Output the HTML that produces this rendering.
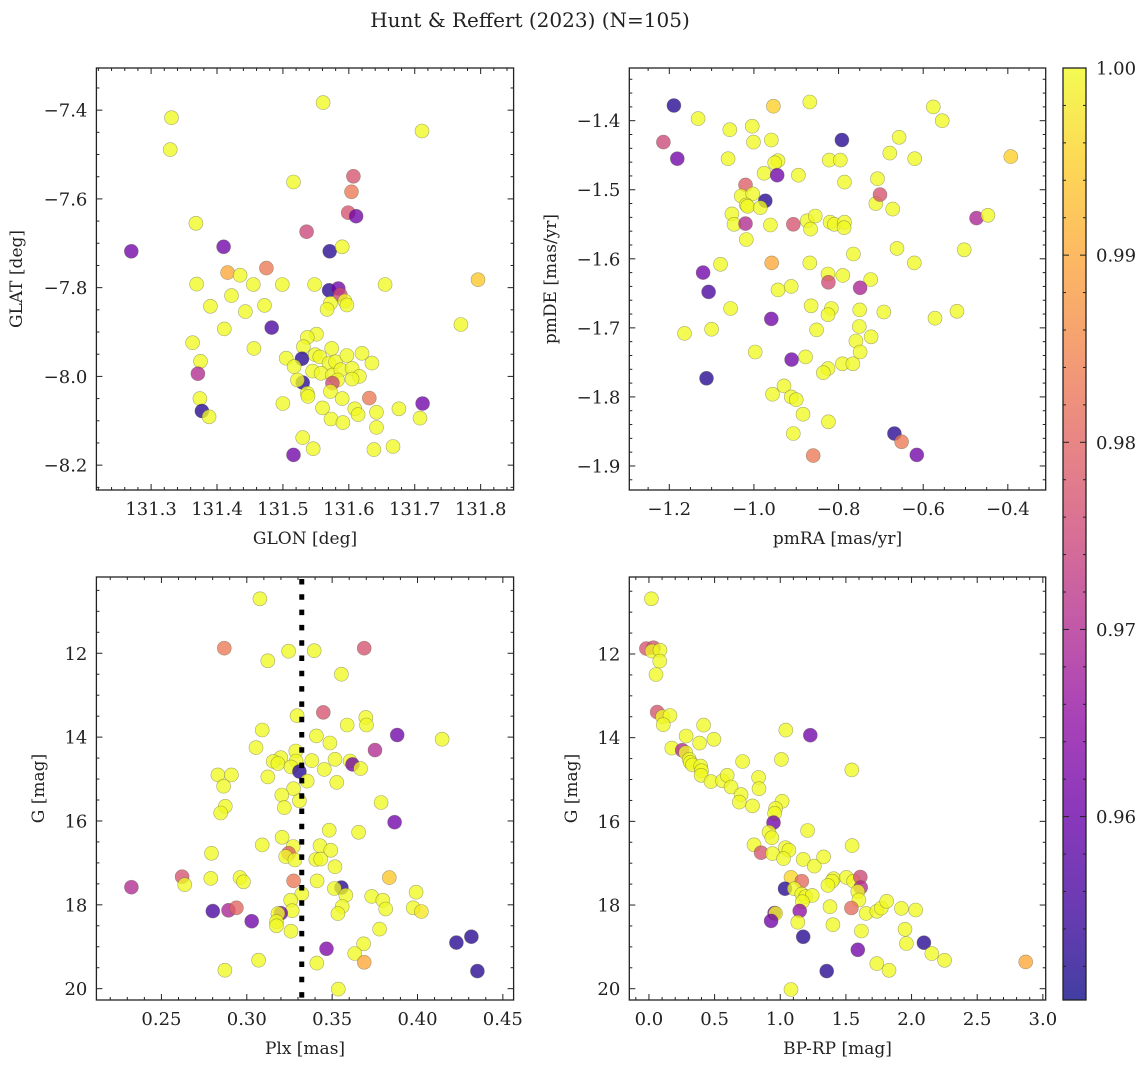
<!DOCTYPE html>
<html><head><meta charset="utf-8"><title>Hunt & Reffert (2023)</title>
<style>
html,body{margin:0;padding:0;background:#fff;}
svg text{font-family:"DejaVu Serif","Liberation Serif",serif;fill:#222;}
</style></head>
<body>
<svg id="fig" xmlns="http://www.w3.org/2000/svg" width="1148" height="1067" viewBox="0 0 1148 1067">
<rect width="1148" height="1067" fill="#fff"/>
<text x="530" y="27" font-size="20" text-anchor="middle">Hunt &amp; Reffert (2023) (N=105)</text>
</svg>
<script>
// ---------- DATA ----------
const glon = [131.270,131.331,131.329,131.561,131.711,131.607,131.604,131.516,131.599,131.611,131.368,131.536,131.410,131.571,131.590,131.416,131.475,131.435,131.455,131.548,131.499,131.655,131.796,131.369,131.422,131.390,131.472,131.443,131.570,131.584,131.587,131.572,131.594,131.597,131.567,131.411,131.483,131.770,131.363,131.456,131.551,131.537,131.531,131.375,131.371,131.505,131.529,131.517,131.549,131.556,131.574,131.570,131.580,131.597,131.620,131.635,131.545,131.558,131.575,131.588,131.605,131.616,131.583,131.605,131.575,131.530,131.522,131.374,131.377,131.388,131.500,131.537,131.538,131.572,131.590,131.560,131.573,131.591,131.609,131.614,131.631,131.642,131.642,131.676,131.708,131.712,131.530,131.546,131.516,131.638,131.667];
const glat = [-7.718,-7.417,-7.489,-7.383,-7.447,-7.549,-7.584,-7.562,-7.631,-7.639,-7.655,-7.674,-7.708,-7.718,-7.708,-7.766,-7.756,-7.772,-7.793,-7.793,-7.793,-7.793,-7.782,-7.792,-7.818,-7.842,-7.840,-7.854,-7.806,-7.802,-7.816,-7.835,-7.830,-7.839,-7.849,-7.893,-7.890,-7.883,-7.924,-7.937,-7.905,-7.912,-7.933,-7.966,-7.994,-7.959,-7.960,-7.978,-7.951,-7.956,-7.937,-7.970,-7.967,-7.953,-7.948,-7.970,-7.988,-7.993,-7.997,-7.985,-7.982,-8.000,-8.008,-8.006,-8.015,-8.014,-8.008,-8.050,-8.078,-8.091,-8.061,-8.038,-8.045,-8.034,-8.050,-8.071,-8.096,-8.104,-8.073,-8.086,-8.049,-8.081,-8.115,-8.073,-8.094,-8.061,-8.138,-8.163,-8.177,-8.165,-8.158];
const prob1 = [0.961,1,1,1,1,0.977,0.983,1,0.977,0.961,1,0.975,0.961,0.9525,1,0.99,0.983,1,1,1,1,1,0.994,1,1,1,1,1,0.9525,0.961,0.975,1,1,1,1,1,0.956,1,1,1,1,1,1,1,0.970,1,0.9525,1,1,1,1,1,1,1,1,1,1,1,1,1,1,1,1,1,0.975,0.9525,1,1,0.9525,1,1,1,1,1,1,1,1,1,1,1,0.983,1,1,1,1,0.961,1,1,0.961,1,1];

const pmra = [-1.189,-1.132,-1.214,-1.181,-1.057,-1.004,-1.001,-1.061,-0.959,-0.954,-0.868,-0.792,-0.943,-0.951,-0.976,-0.945,-0.895,-0.822,-0.796,-0.786,-0.708,-0.657,-0.679,-0.620,-0.576,-0.555,-0.393,-1.020,-1.030,-1.003,-0.973,-1.018,-1.015,-0.985,-1.052,-1.047,-1.020,-0.961,-0.907,-0.874,-0.866,-0.855,-1.018,-0.820,-0.810,-0.786,-0.787,-0.712,-0.702,-0.672,-0.474,-0.447,-0.662,-0.503,-0.621,-0.765,-0.958,-0.868,-1.079,-1.120,-1.107,-0.825,-0.824,-0.790,-0.724,-0.749,-0.943,-0.912,-1.055,-0.865,-0.817,-0.825,-0.750,-0.693,-0.572,-0.520,-0.959,-1.100,-1.164,-0.852,-0.751,-0.723,-0.759,-0.749,-0.997,-0.911,-0.878,-0.825,-0.836,-0.791,-0.766,-1.112,-0.929,-0.956,-0.912,-0.900,-0.884,-0.824,-0.907,-0.668,-0.651,-0.615,-0.860];
const pmde = [-1.378,-1.397,-1.431,-1.455,-1.413,-1.408,-1.431,-1.455,-1.428,-1.379,-1.373,-1.428,-1.458,-1.461,-1.476,-1.479,-1.479,-1.457,-1.457,-1.489,-1.484,-1.424,-1.447,-1.455,-1.380,-1.400,-1.452,-1.493,-1.509,-1.506,-1.516,-1.522,-1.524,-1.526,-1.535,-1.550,-1.549,-1.551,-1.550,-1.545,-1.557,-1.538,-1.572,-1.547,-1.550,-1.547,-1.555,-1.520,-1.507,-1.528,-1.541,-1.537,-1.585,-1.587,-1.606,-1.593,-1.606,-1.606,-1.608,-1.620,-1.648,-1.622,-1.634,-1.624,-1.630,-1.642,-1.645,-1.640,-1.672,-1.668,-1.672,-1.681,-1.674,-1.677,-1.686,-1.676,-1.687,-1.702,-1.708,-1.703,-1.698,-1.713,-1.719,-1.735,-1.735,-1.746,-1.742,-1.759,-1.765,-1.752,-1.752,-1.773,-1.784,-1.796,-1.800,-1.804,-1.825,-1.836,-1.853,-1.853,-1.865,-1.884,-1.885];
const prob2 = [0.9525,1,0.975,0.961,1,1,1,1,1,0.995,1,0.9525,1,1,1,0.961,1,1,1,1,1,1,1,1,1,1,0.995,0.979,1,1,0.9525,1,1,1,1,1,0.970,1,0.977,1,1,1,1,1,1,1,1,1,0.977,1,0.969,1,1,1,1,1,0.99,1,1,0.961,0.956,1,0.976,1,1,0.969,1,1,1,1,1,1,1,1,1,1,0.961,1,1,1,1,1,1,1,1,0.961,1,1,1,1,1,0.9525,1,1,1,1,1,1,1,0.9525,0.983,0.961,0.983];

const plx = [0.3077,0.2868,0.3688,0.3245,0.3395,0.3123,0.3554,0.3448,0.3295,0.3697,0.3701,0.3588,0.3090,0.3408,0.3881,0.4144,0.3487,0.3054,0.3751,0.3287,0.3199,0.3155,0.3182,0.3289,0.3381,0.3517,0.3605,0.3619,0.3667,0.3259,0.3454,0.3308,0.2831,0.2910,0.3123,0.3354,0.3527,0.2864,0.3274,0.3205,0.3308,0.3787,0.2874,0.3220,0.2847,0.3866,0.3483,0.3655,0.3207,0.3090,0.3429,0.3272,0.3492,0.2793,0.3245,0.3228,0.3282,0.3404,0.3433,0.3517,0.2621,0.2789,0.2960,0.2981,0.3274,0.3412,0.3835,0.2324,0.2636,0.3554,0.3513,0.3322,0.3580,0.3732,0.3992,0.3257,0.3797,0.3814,0.3266,0.3559,0.3534,0.3975,0.4023,0.2801,0.2893,0.2939,0.3199,0.3182,0.3174,0.3174,0.3029,0.3259,0.3778,0.4228,0.4316,0.3684,0.3467,0.3632,0.3069,0.3688,0.3410,0.2872,0.4351,0.3536];
const gmag3 = [10.70,11.88,11.88,11.95,11.94,12.18,12.50,13.41,13.49,13.53,13.71,13.71,13.83,13.97,13.95,14.05,14.14,14.25,14.31,14.33,14.49,14.58,14.63,14.57,14.56,14.53,14.57,14.65,14.75,14.71,14.77,14.82,14.90,14.90,14.95,15.05,15.08,15.17,15.23,15.38,15.52,15.56,15.65,15.68,15.81,16.03,16.22,16.27,16.39,16.57,16.59,16.61,16.70,16.77,16.77,16.85,16.93,16.92,16.91,17.09,17.33,17.37,17.35,17.45,17.43,17.43,17.35,17.58,17.52,17.59,17.61,17.74,17.77,17.80,17.70,17.89,17.89,18.10,18.14,18.04,18.21,18.07,18.16,18.15,18.13,18.07,18.20,18.21,18.40,18.50,18.39,18.63,18.58,18.90,18.76,18.93,19.05,19.16,19.32,19.37,19.39,19.56,19.58,20.01];
const prob3 = [1,0.983,0.977,1,1,1,1,0.977,1,1,1,1,1,1,0.961,1,1,1,0.970,1,1,1,1,1,1,1,1,0.961,1,1,1,0.9525,1,1,1,1,1,1,1,1,1,1,1,1,1,0.961,1,1,1,1,1,1,1,1,0.979,1,1,1,1,1,0.977,1,1,1,0.983,1,0.994,0.970,1,0.9525,1,1,1,1,1,1,1,1,1,1,1,1,0.998,0.956,0.969,0.980,0.961,1,1,1,0.961,1,1,0.9525,0.9525,1,0.963,1,1,0.99,1,1,0.9525,1];
const cutPlx = [0.3322];

const bprp = [0.019,-0.019,0.035,0.024,0.084,0.082,0.054,0.063,0.103,0.160,0.109,0.416,0.283,0.495,1.042,1.229,0.386,0.174,0.253,0.280,0.307,0.315,0.332,0.394,0.400,0.397,0.713,1.009,1.545,0.473,0.560,0.596,0.626,0.835,0.838,0.702,0.688,0.789,1.014,0.965,0.957,0.949,1.208,0.914,0.936,0.800,1.547,0.854,0.941,1.039,1.066,1.025,1.175,1.259,1.330,1.082,1.164,1.406,1.395,1.363,1.504,1.559,1.610,1.613,1.036,1.107,1.164,1.194,1.243,1.591,1.599,1.169,1.379,1.542,1.148,0.957,0.965,0.930,1.134,1.401,1.654,1.735,1.770,1.811,1.923,2.032,1.618,1.175,1.950,1.961,2.094,1.591,2.154,2.252,1.735,1.828,1.354,2.869,1.082];
const gmag4 = [10.68,11.87,11.85,11.93,11.91,12.17,12.49,13.39,13.50,13.47,13.69,13.70,13.96,14.04,13.82,13.94,14.13,14.25,14.30,14.36,14.52,14.59,14.65,14.68,14.79,14.90,14.57,14.52,14.77,15.05,15.03,14.90,15.18,14.95,15.22,15.36,15.54,15.63,15.52,15.69,15.81,16.03,16.22,16.26,16.39,16.56,16.58,16.75,16.77,16.63,16.69,16.89,16.91,17.07,16.85,17.34,17.43,17.37,17.43,17.53,17.34,17.43,17.33,17.58,17.61,17.61,17.74,17.80,17.77,17.68,17.88,17.92,18.04,18.07,18.14,18.19,18.20,18.38,18.41,18.47,18.20,18.15,18.07,17.91,18.08,18.12,18.62,18.76,18.58,18.92,18.90,19.07,19.16,19.32,19.40,19.56,19.58,19.36,20.02];
const prob4 = [1,0.977,0.977,1,1,1,1,0.977,1,1,1,1,1,1,1,0.961,1,1,0.970,1,1,1,1,1,1,1,1,1,1,1,1,1,1,1,1,1,1,1,1,1,1,0.961,1,1,1,1,1,0.977,1,1,1,1,1,1,1,0.996,0.981,1,1,1,1,1,0.975,0.970,0.9525,1,1,1,1,1,1,1,1,0.981,0.965,0.961,1,0.961,1,1,1,1,1,1,1,1,1,0.9525,1,1,0.9525,0.961,1,1,1,1,0.9525,0.99,1];

const cbTicks = [0.96,0.97,0.98,0.99,1.00];

// ---------- HELPERS ----------
const NS = "http://www.w3.org/2000/svg";
const svg = document.getElementById('fig');
const VMIN = 0.9502, VMAX = 1.0;
const plasma = [[13,8,135],[65,4,157],[106,0,168],[143,13,164],[177,42,144],[204,71,120],[225,100,98],[242,132,75],[252,166,54],[252,206,37],[240,249,33]];
function cmap(v){
  let t = (v-VMIN)/(VMAX-VMIN); t = Math.max(0,Math.min(1,t));
  const f = t*10, i = Math.min(9,Math.floor(f)), r = f-i;
  const a = plasma[i], b = plasma[i+1];
  return 'rgb('+a.map((c,k)=>Math.round(c+(b[k]-c)*r)).join(',')+')';
}
function mk(tag, attrs, parent){
  const e = document.createElementNS(NS, tag);
  for (const k in attrs) e.setAttribute(k, attrs[k]);
  (parent||svg).appendChild(e);
  return e;
}
function fmt(v, d){ const s = Math.abs(v).toFixed(d); return (v < -1e-9 ? '\u2212' : '') + s; }

function panel(o){
  const g = mk('g', {});
  
  
  const L=o.x0, R=o.x1, T=o.y0, B=o.y1;
  const sx = v => L + (v-o.xmin)/(o.xmax-o.xmin)*(R-L);
  const sy = o.yinv ? (v => T + (v-o.ymin)/(o.ymax-o.ymin)*(B-T))
                    : (v => B - (v-o.ymin)/(o.ymax-o.ymin)*(B-T));
  const cid = 'clip-'+o.name;
  const cp = mk('clipPath', {id: cid}, g);
  mk('rect', {x:L, y:T, width:R-L, height:B-T}, cp);
  const pts = mk('g', {'clip-path':'url(#'+cid+')'}, g);
  for (let i=0;i<o.xs.length;i++){
    const c = mk('circle', {cx:sx(o.xs[i]).toFixed(1), cy:sy(o.ys[i]).toFixed(1), r:7,
      fill:cmap(o.cs[i]), 'fill-opacity':0.78, stroke:'#5a5a3a', 'stroke-opacity':0.5, 'stroke-width':0.6}, pts);
    
    
  }
  if (o.vline){
    for (const v of o.vline){
      const ln = mk('line', {x1:sx(v), x2:sx(v), y1:T+2, y2:B, stroke:'#000', 'stroke-width':5, 'stroke-dasharray':'5.5 9.8'}, pts);
      
      
    }
  }
  const tk = mk('g', {stroke:'#222', 'stroke-width':1}, g);
  const eps=1e-9;
  const start = (mn, st) => Math.ceil((mn-eps)/st)*st;
  for (let v=start(o.xmin,o.xminor); v<=o.xmax+eps; v+=o.xminor){
    const major = Math.abs(v/o.xmajor - Math.round(v/o.xmajor)) < 1e-6;
    const len = major?6:3, x=sx(v);
    mk('line',{x1:x,x2:x,y1:B,y2:B-len},tk); mk('line',{x1:x,x2:x,y1:T,y2:T+len},tk);
    if (major){
      const t = mk('text',{x:x,y:B+25,'font-size':18,'text-anchor':'middle',stroke:'none'},g);
      t.textContent = fmt(v,o.xdec);
      
      
    }
  }
  for (let v=start(o.ymin,o.yminor); v<=o.ymax+eps; v+=o.yminor){
    const major = Math.abs(v/o.ymajor - Math.round(v/o.ymajor)) < 1e-6;
    const len = major?6:3, y=sy(v);
    mk('line',{x1:L,x2:L+len,y1:y,y2:y},tk); mk('line',{x1:R,x2:R-len,y1:y,y2:y},tk);
    if (major){
      const t = mk('text',{x:L-9,y:y+6.5,'font-size':18,'text-anchor':'end',stroke:'none'},g);
      t.textContent = fmt(v,o.ydec);
      
      
    }
  }
  const fr = mk('rect',{x:L,y:T,width:R-L,height:B-T,fill:'none',stroke:'#222','stroke-width':1.3},g);
  
  
  const xl = mk('text',{x:(L+R)/2,y:B+54,'font-size':17,'text-anchor':'middle'},g);
  xl.textContent = o.xlabel;
  
  
  const yl = mk('text',{x:0,y:0,'font-size':17,'text-anchor':'middle',transform:'translate('+o.ylx+','+((T+B)/2)+') rotate(-90)'},g);
  yl.textContent = o.ylabel;
  
  
}

panel({name:'glon-glat-panel', x0:96.4,x1:513.6,y0:68,y1:490, xmin:131.217,xmax:131.850, ymin:-8.256,ymax:-7.305, yinv:false,
  xmajor:0.1,xminor:0.02,ymajor:0.2,yminor:0.05,xdec:1,ydec:1, xs:glon, ys:glat, cs:prob1, xlabel:'GLON [deg]', ylabel:'GLAT [deg]', ylx:22});
panel({name:'pm-panel', x0:629.3,x1:1045.7,y0:68,y1:490, xmin:-1.2945,xmax:-0.3105, ymin:-1.9348,ymax:-1.3237, yinv:false,
  xmajor:0.2,xminor:0.05,ymajor:0.1,yminor:0.02,xdec:1,ydec:1, xs:pmra, ys:pmde, cs:prob2, xlabel:'pmRA [mas/yr]', ylabel:'pmDE [mas/yr]', ylx:556});
panel({name:'plx-g-panel', x0:96.4,x1:513.6,y0:577,y1:1000, xmin:0.2119,xmax:0.4563, ymin:10.181,ymax:20.27, yinv:true,
  xmajor:0.05,xminor:0.01,ymajor:2,yminor:0.5,xdec:2,ydec:0, xs:plx, ys:gmag3, cs:prob3, vline:cutPlx, xlabel:'Plx [mas]', ylabel:'G [mag]', ylx:44});
panel({name:'cmd-panel', x0:629.3,x1:1045.7,y0:577,y1:1000, xmin:-0.1496,xmax:3.0217, ymin:10.16,ymax:20.27, yinv:true,
  xmajor:0.5,xminor:0.1,ymajor:2,yminor:0.5,xdec:1,ydec:0, xs:bprp, ys:gmag4, cs:prob4, xlabel:'BP-RP [mag]', ylabel:'G [mag]', ylx:577});

(function(){
  const X=1063, W=23, T=68, B=1000;
  const g = mk('g',{});
  
  
  const defs = mk('defs',{},g);
  const lg = mk('linearGradient',{id:'cbgrad',x1:0,y1:1,x2:0,y2:0},defs);
  for (let i=0;i<=20;i++){
    const t=i/20;
    mk('stop',{offset:t,'stop-color':cmap(VMIN+t*(VMAX-VMIN))},lg);
  }
  mk('rect',{x:X,y:T,width:W,height:B-T,fill:'url(#cbgrad)','fill-opacity':0.78},g);
  mk('rect',{x:X,y:T,width:W,height:B-T,fill:'none',stroke:'#222','stroke-width':1.3},g);
  const sy = v => B - (v-VMIN)/(VMAX-VMIN)*(B-T);
  for (let v=0.952; v<=1.0001; v+=0.002){
    const y=sy(v), major = Math.abs(v*100-Math.round(v*100))<1e-6;
    const len = major?6:3;
    mk('line',{x1:X,x2:X+len,y1:y,y2:y,stroke:'#222'},g);
    mk('line',{x1:X+W,x2:X+W-len,y1:y,y2:y,stroke:'#222'},g);
  }
  for (const v of cbTicks){
    const t = mk('text',{x:X+W+10,y:sy(v)+6.5,'font-size':18},g);
    t.textContent = v.toFixed(2);
    
    
  }
})();
</script>
</body></html>
